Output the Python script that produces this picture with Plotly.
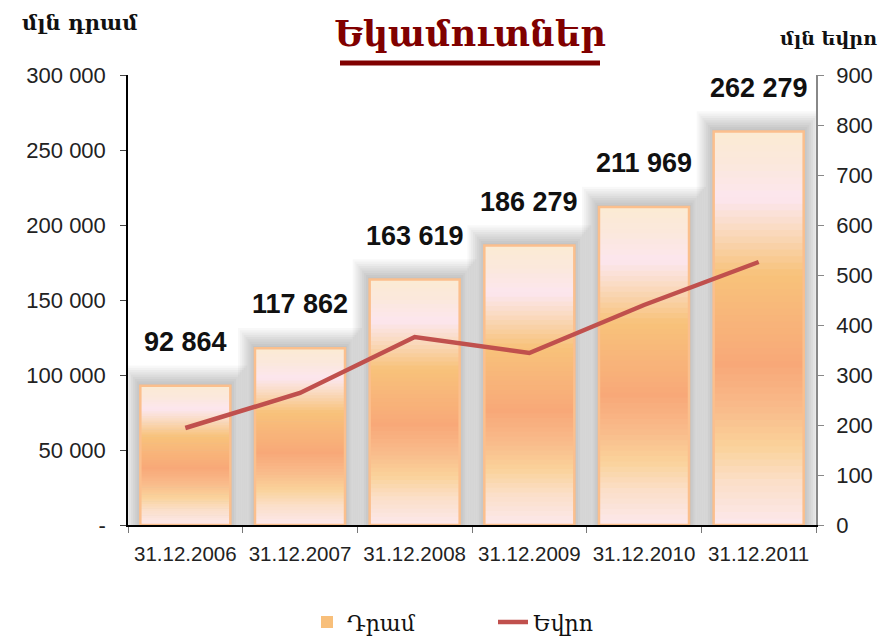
import plotly.graph_objects as go

categories = ["31.12.2006", "31.12.2007", "31.12.2008", "31.12.2009", "31.12.2010", "31.12.2011"]
dram_values = [92864, 117862, 163619, 186279, 211969, 262279]
euro_values = [194, 264, 376, 344, 440, 526]
dram_labels = ["92 864", "117 862", "163 619", "186 279", "211 969", "262 279"]
left_tickvals = [0, 50000, 100000, 150000, 200000, 250000, 300000]
left_ticktext = ["-", "50 000", "100 000", "150 000", "200 000", "250 000", "300 000"]
right_tickvals = [0, 100, 200, 300, 400, 500, 600, 700, 800, 900]

# gradient style stops (fraction of bar height from bottom, colour)
stops = [
    (0.0, "#FCE8EC"), (0.11, "#FBDFC8"), (0.2, "#FAD29A"), (0.3, "#F9BA8A"),
    (0.41, "#F8A878"), (0.53, "#F8B67A"), (0.635, "#F8C27A"), (0.76, "#FADCC6"),
    (0.83, "#FCE6EE"), (0.92, "#FBE8DC"), (1.0, "#FBEBD3"),
]


def hex2rgb(h):
    h = h.lstrip("#")
    return tuple(int(h[i:i + 2], 16) for i in (0, 2, 4))


def grad(f):
    for (f0, c0), (f1, c1) in zip(stops[:-1], stops[1:]):
        if f0 <= f <= f1:
            t = (f - f0) / (f1 - f0) if f1 > f0 else 0
            a, b = hex2rgb(c0), hex2rgb(c1)
            return "rgb(%d,%d,%d)" % tuple(round(a[i] + (b[i] - a[i]) * t) for i in range(3))
    return stops[-1][1]


BAR_W = 0.785
SERIF = "DejaVu Serif, Noto Serif, DejaVu Sans, serif"
SANS = "Liberation Sans, Arial, sans-serif"

fig = go.Figure()

# soft shadow around bars
for k in range(1, 10):
    fig.add_trace(go.Bar(
        x=categories, y=[v + k * 1500 for v in dram_values],
        width=BAR_W + k * 0.033,
        marker=dict(color="rgba(0,0,0,0.026)", line=dict(width=0)),
        showlegend=False, hoverinfo="skip",
    ))

# gradient bars built from stacked slices
N = 60
for k in range(N):
    f = (k + 0.5) / N
    h = 1.25 if k < N - 1 else 1.0
    fig.add_trace(go.Bar(
        x=categories,
        y=[v / N * h for v in dram_values],
        base=[v * k / N for v in dram_values],
        width=BAR_W,
        marker=dict(color=grad(f), line=dict(width=0)),
        name="Դրամ",
        showlegend=(k == int(N * 0.6)),
        hoverinfo="skip",
    ))

# bar outlines
fig.add_trace(go.Bar(
    x=categories, y=dram_values, width=BAR_W,
    marker=dict(color="rgba(0,0,0,0)", line=dict(color="#FBBF8D", width=2.5)),
    showlegend=False, name="Դրամ",
))

# euro line
fig.add_trace(go.Scatter(
    x=categories, y=euro_values, yaxis="y2", mode="lines",
    line=dict(color="#C0504D", width=4.5),
    name="Եվրո",
))

for c, v, t in zip(categories, dram_values, dram_labels):
    fig.add_annotation(x=c, y=v, text="<b>" + t + "</b>", showarrow=False,
                       xanchor="center", yanchor="middle", yshift=44,
                       font=dict(family=SANS, size=27, color="#111"))

fig.add_annotation(xref="paper", yref="paper", x=(80 - 128) / 688, y=(525 - 23) / 450,
                   text="<b>մլն դրամ</b>", xanchor="center", yanchor="middle",
                   showarrow=False, font=dict(family=SERIF, size=21, color="#111"))
fig.add_annotation(xref="paper", yref="paper", x=(828 - 128) / 688, y=(525 - 38) / 450,
                   text="<b>մլն եվրո</b>", xanchor="center", yanchor="middle",
                   showarrow=False, font=dict(family=SERIF, size=19, color="#111"))

# title underline
fig.add_shape(type="line", xref="paper", yref="paper",
              x0=(340 - 128) / 688, x1=(600 - 128) / 688,
              y0=(525 - 63) / 450, y1=(525 - 63) / 450,
              line=dict(color="#800000", width=5))

fig.update_layout(
    width=882, height=641,
    margin=dict(l=128, r=66, t=75, b=116, autoexpand=False),
    paper_bgcolor="white", plot_bgcolor="white",
    barmode="overlay",
    title=dict(text="<b>Եկամուտներ</b>", x=470 / 882, xanchor="center",
               y=1 - 34 / 641, yanchor="middle",
               font=dict(family=SERIF, size=35, color="#800000")),
    xaxis=dict(
        type="category", range=[-0.5, len(categories) - 0.5],
        showline=True, linecolor="black", linewidth=1.5,
        ticks="outside", ticklen=6, tickcolor="#777", tickson="boundaries",
        tickfont=dict(family=SANS, size=20.5, color="#222"), tickangle=0,
        ticklabelstandoff=10, showgrid=False, automargin=False,
    ),
    yaxis=dict(
        range=[0, 300000], tickvals=left_tickvals, ticktext=left_ticktext,
        showline=True, linecolor="black", linewidth=1.5,
        ticks="outside", ticklen=6, tickcolor="#444",
        tickfont=dict(family=SANS, size=22, color="#222"),
        showgrid=False, zeroline=False, ticklabelstandoff=10, automargin=False,
    ),
    yaxis2=dict(
        range=[0, 900], tickvals=right_tickvals, overlaying="y", side="right",
        showline=True, linecolor="#888", linewidth=1.5,
        ticks="outside", ticklen=6, tickcolor="#888",
        tickfont=dict(family=SANS, size=22, color="#222"),
        showgrid=False, zeroline=False, ticklabelstandoff=8, automargin=False,
    ),
    legend=dict(orientation="h", x=(493 - 128) / 688, xanchor="center",
                y=-0.216, yanchor="middle",
                font=dict(family=SERIF, size=22, color="#111"),
                entrywidth=141, entrywidthmode="pixels", tracegroupgap=0),
    showlegend=True,
)

fig.write_html("out.html", config={"displayModeBar": False},
               post_script="document.body.style.margin='0';document.body.style.padding='0';")
